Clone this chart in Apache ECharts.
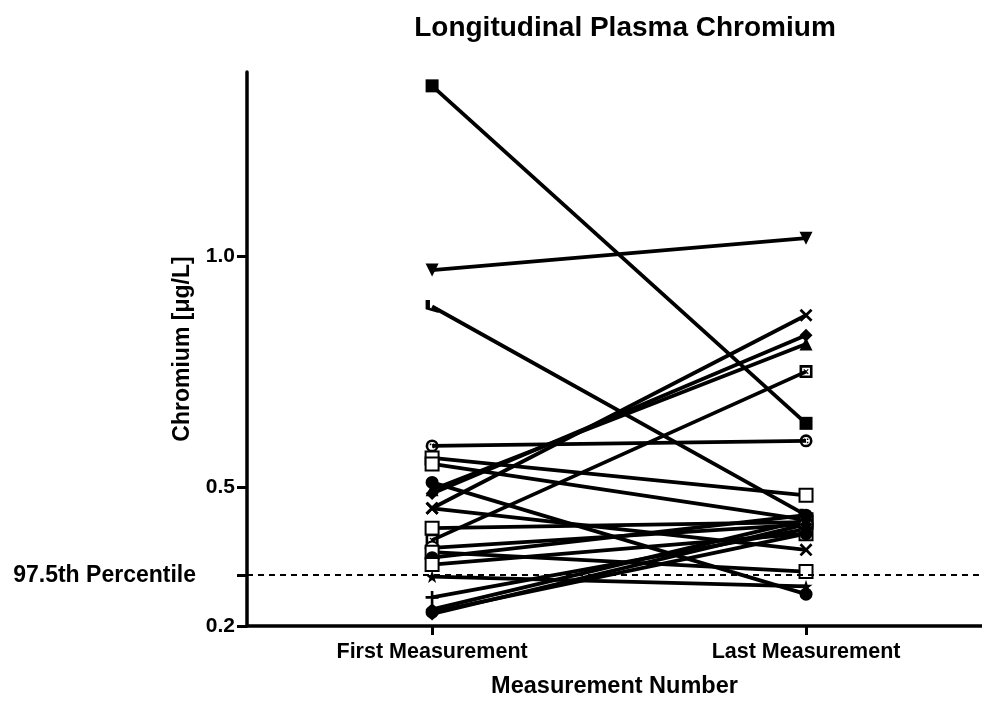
<!DOCTYPE html>
<html>
<head>
<meta charset="utf-8">
<script src="https://cdn.jsdelivr.net/npm/echarts@6/dist/echarts.min.js"></script>
<style>html,body{margin:0;padding:0;background:#fff}#chart{width:982px;height:704px}</style>
</head>
<body>
<div id="chart"></div>
<script>
const categories = ['First Measurement', 'Last Measurement'];
const firstValues = [1.370, 0.971, 0.892, 0.590, 0.564, 0.551, 0.511, 0.487, 0.495, 0.455, 0.455, 0.412, 0.386, 0.369, 0.360, 0.348, 0.333, 0.307, 0.262, 0.236, 0.226, 0.230];
const lastValues  = [0.639, 1.040, 0.440, 0.601, 0.483, 0.430, 0.269, 0.830, 0.811, 0.873, 0.365, 0.425, 0.751, 0.420, 0.318, 0.440, 0.400, 0.286, 0.410, 0.430, 0.420, 0.400];
const subjectSymbols = ['rect', 'triangleDown', 'bar', 'crossCircle', 'emptyRect', 'emptyRect', 'circle', 'diamond', 'triangle', 'xmark', 'xmark', 'emptyRect', 'crossRect', 'emptyCircle', 'emptyRect', 'circle', 'emptyRect', 'star', 'plus', 'diamond', 'diamond', 'circle'];
const yLabelValues = [0.2, 0.31, 0.5, 1.0];
const percentile975 = 0.31;

const symbolMap = {
  rect: {symbol: 'rect', rotate: 0, empty: false},
  triangleDown: {symbol: 'triangle', rotate: 180, empty: false},
  triangle: {symbol: 'triangle', rotate: 0, empty: false},
  diamond: {symbol: 'diamond', rotate: 0, empty: false},
  circle: {symbol: 'circle', rotate: 0, empty: false},
  star: {symbol: 'path://M5,0 L6.2,3.8 L10,3.8 L7,6.2 L8.1,10 L5,7.6 L1.9,10 L3,6.2 L0,3.8 L3.8,3.8 Z', rotate: 0, empty: false},
  emptyRect: {symbol: 'emptyRect', rotate: 0, empty: true},
  emptyCircle: {symbol: 'emptyCircle', rotate: 0, empty: true},
  crossCircle: {symbol: 'path://M5,0 A5,5 0 1 1 4.99,0 Z M5,2 A3,3 0 1 0 5.01,2 Z M3.2,3.2 L4.4,3.2 L4.4,4.4 L3.2,4.4 Z M5.6,5.6 L6.8,5.6 L6.8,6.8 L5.6,6.8 Z M5.6,3.2 L6.8,3.2 L6.8,4.4 L5.6,4.4 Z', rotate: 0, empty: false},
  crossRect: {symbol: 'path://M0,0 L10,0 L10,10 L0,10 Z M2,2 L2,8 L8,8 L8,2 Z M3,3.6 L3.6,3 L5,4.4 L6.4,3 L7,3.6 L5.6,5 L7,6.4 L6.4,7 L5,5.6 L3.6,7 L3,6.4 L4.4,5 Z', rotate: 0, empty: false},
  xmark: {symbol: 'path://M0,1.5 L1.5,0 L5,3.5 L8.5,0 L10,1.5 L6.5,5 L10,8.5 L8.5,10 L5,6.5 L1.5,10 L0,8.5 L3.5,5 Z', rotate: 0, empty: false},
  plus: {symbol: 'path://M4,0 L6,0 L6,4 L10,4 L10,6 L6,6 L6,10 L4,10 L4,6 L0,6 L0,4 L4,4 Z', rotate: 0, empty: false},
  bar: {symbol: 'path://M0,0 L2,0 L2,6 L6,8 L6,10 L0,7 Z', rotate: 0, empty: false}
};

const series = firstValues.map((fv, i) => {
  const s = symbolMap[subjectSymbols[i]];
  return {
    name: 'Subject ' + (i + 1),
    type: 'line',
    data: [[0, fv], [1, lastValues[i]]],
    symbol: s.symbol,
    symbolRotate: s.rotate,
    symbolSize: 13,
    showAllSymbol: true,
    z: 3,
    lineStyle: {color: '#000', width: 3.8},
    itemStyle: {color: '#000', borderColor: '#000', borderWidth: s.empty ? 2.5 : 0, opacity: 1},
    emphasis: {disabled: true}
  };
});

series.push({
  name: '97.5th Percentile',
  type: 'line',
  data: [],
  markLine: {
    silent: true,
    symbol: 'none',
    label: {show: false},
    lineStyle: {color: '#000', type: [6, 5], width: 2},
    data: [{yAxis: percentile975}]
  }
});

const font = 'Liberation Sans';
const chart = echarts.init(document.getElementById('chart'));
chart.setOption({
  animation: false,
  backgroundColor: '#fff',
  title: {
    text: 'Longitudinal Plasma Chromium',
    left: 620, top: 9, textAlign: 'center',
    textStyle: {fontFamily: font, fontWeight: 'bold', fontSize: 28, color: '#000'}
  },
  grid: {left: 247, right: 0, top: 72, bottom: 72},
  xAxis: {
    type: 'value',
    min: -0.495, max: 1.4706,
    name: 'Measurement Number',
    nameLocation: 'middle',
    nameGap: 49,
    nameMoveOverlap: false,
    nameTextStyle: {fontFamily: font, fontWeight: 'bold', fontSize: 23.5, color: '#000'},
    axisLine: {show: true, onZero: false, lineStyle: {color: '#000', width: 3.5}},
    axisTick: {show: true, customValues: [0, 1], length: 9, lineStyle: {color: '#000', width: 3}},
    axisLabel: {
      customValues: [0, 1],
      margin: 15,
      fontFamily: font, fontWeight: 'bold', fontSize: 21.5, color: '#000',
      formatter: v => categories[Math.round(v)]
    },
    splitLine: {show: false}
  },
  yAxis: {
    type: 'value',
    min: 0.2, max: 1.4,
    name: 'Chromium [μg/L]',
    nameLocation: 'middle',
    nameGap: 53,
    nameRotate: 90,
    nameMoveOverlap: false,
    nameTextStyle: {fontFamily: font, fontWeight: 'bold', fontSize: 23, color: '#000'},
    axisLine: {show: true, onZero: false, lineStyle: {color: '#000', width: 3.5}},
    axisTick: {show: true, length: 10, customValues: yLabelValues, lineStyle: {color: '#000', width: 3}},
    axisLabel: {
      customValues: yLabelValues,
      margin: 12,
      fontFamily: font, fontWeight: 'bold', fontSize: 21, color: '#000',
      formatter: v => Math.abs(v - percentile975) < 1e-6 ? '{p|97.5th Percentile}' : v.toFixed(1),
      rich: {p: {fontFamily: font, fontWeight: 'bold', fontSize: 23, color: '#000', padding: [0, 39, 0, 0]}}
    },
    splitLine: {show: false}
  },
  series: series
});
</script>
</body>
</html>
